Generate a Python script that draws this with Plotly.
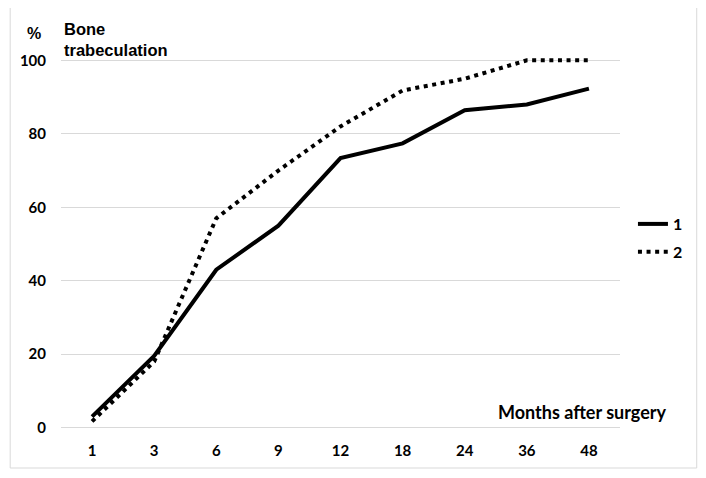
import plotly.graph_objects as go

months = ["1", "3", "6", "9", "12", "18", "24", "36", "48"]
series1 = [3, 19.5, 43, 55, 73.4, 77.4, 86.4, 88, 92.3]
series2 = [1.7, 18, 57, 70, 82, 91.8, 95, 100, 100]
y_ticks = [0, 20, 40, 60, 80, 100]

W, H = 706, 478
OFF = 8  # page body margin offset
# plot area in reference (window) coordinates
PL, PR, PT, PB = 59, 620, 53, 435
L = PL - OFF
T = PT - OFF
pw, ph = PR - PL, PB - PT
R = W - L - pw
B = H - T - ph

def px(x):
    return (x - PL) / pw

def py(y):
    return (PB - y) / ph

tick_font = dict(family="Lato", size=15, color="black", weight="bold")

fig = go.Figure()
fig.add_trace(go.Scatter(x=months, y=series1, mode="lines", name="1", legendgroup="a",
                         line=dict(color="black", width=4)))
fig.add_trace(go.Scatter(x=months, y=series2, mode="lines", name="2", legendgroup="b",
                         line=dict(color="black", width=4, dash="4px,4.6px")))

fig.update_layout(
    width=W, height=H,
    margin=dict(l=L, r=R, t=T, b=B),
    paper_bgcolor="white", plot_bgcolor="white",
    showlegend=True,
    legend=dict(x=px(633), y=py(207), xanchor="left", yanchor="top",
                font=dict(family="Lato", size=16, color="black", weight="bold"),
                bgcolor="rgba(0,0,0,0)", tracegroupgap=4),
    xaxis=dict(type="category", range=[-0.5, 8.5], showgrid=False, zeroline=False,
               showline=False, ticks="", tickfont=tick_font, ticklabelstandoff=5),
    yaxis=dict(range=[-2, 102], tickvals=y_ticks, showgrid=True, gridcolor="#d9d9d9",
               gridwidth=1, zeroline=False, showline=False, ticks="",
               tickfont=tick_font, ticklabelstandoff=14),
    shapes=[dict(type="rect", xref="paper", yref="paper",
                 x0=px(8), x1=px(697), y0=py(468), y1=py(7),
                 line=dict(color="#d9d9d9", width=1), layer="below")],
    annotations=[
        dict(text="%", xref="paper", yref="paper", x=px(32), y=py(34),
             xanchor="center", yanchor="middle", showarrow=False,
             font=dict(family="Liberation Sans", size=16, color="black", weight="bold")),
        dict(text="Bone<br>trabeculation", xref="paper", yref="paper", x=px(60), y=py(40),
             xanchor="left", yanchor="middle", align="left", showarrow=False,
             font=dict(family="Liberation Sans", size=16.5, color="black", weight="bold")),
        dict(text="Months after surgery", xref="paper", yref="paper", x=px(669), y=py(412),
             xanchor="right", yanchor="middle", showarrow=False,
             font=dict(family="Lato", size=18, color="black", weight="bold")),
    ],
)

fig.write_html("out.html")
